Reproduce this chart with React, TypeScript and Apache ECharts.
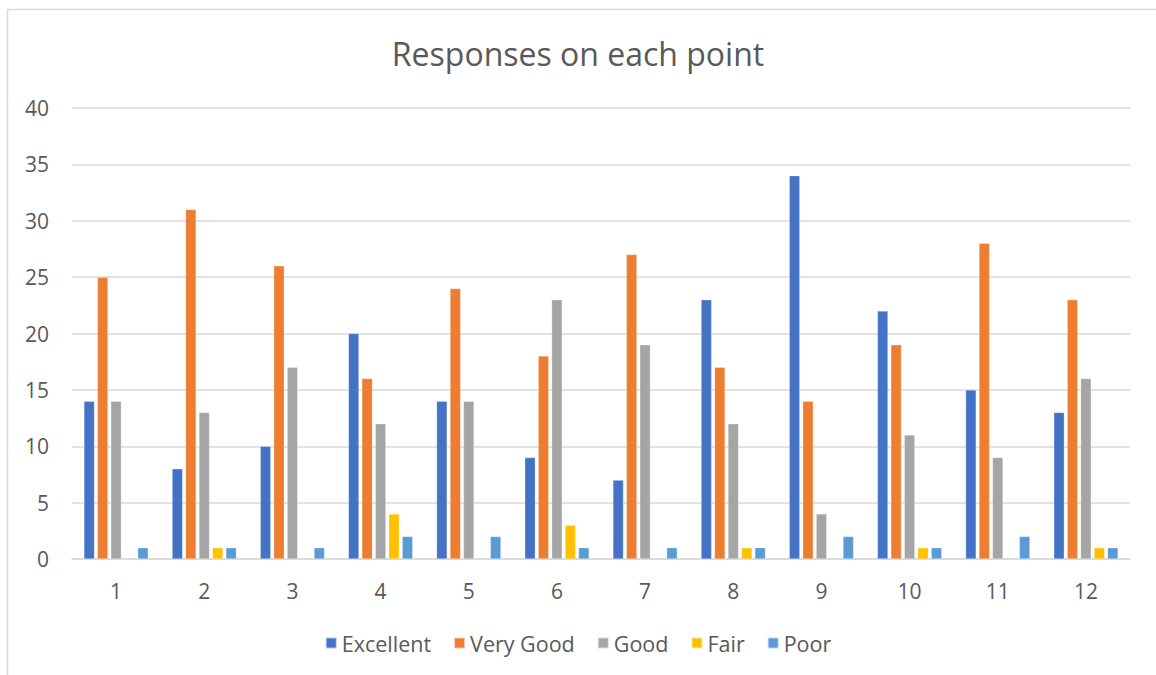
import React, { useEffect, useRef } from "react";
import * as echarts from "echarts";

const categories = ["1", "2", "3", "4", "5", "6", "7", "8", "9", "10", "11", "12"];
const excellent = [14, 8, 10, 20, 14, 9, 7, 23, 34, 22, 15, 13];
const veryGood = [25, 31, 26, 16, 24, 18, 27, 17, 14, 19, 28, 23];
const good = [14, 13, 17, 12, 14, 23, 19, 12, 4, 11, 9, 16];
const fair = [null, 1, null, 4, null, 3, null, 1, null, 1, null, 1];
const poor = [1, 1, 1, 2, 2, 1, 1, 1, 2, 1, 2, 1];

const seriesNames = ["Excellent", "Very Good", "Good", "Fair", "Poor"];
const seriesData = [excellent, veryGood, good, fair, poor];
const colors = ["#4472C4", "#ED7D31", "#A5A5A5", "#FFC000", "#5B9BD5"];

export default function App() {
  const ref = useRef<HTMLDivElement>(null);
  useEffect(() => {
    if (!ref.current) return;
    const chart = echarts.init(ref.current, null, { renderer: "svg" });
    const font = "'Open Sans', 'Noto Sans', sans-serif";
    chart.setOption({
      animation: false,
      backgroundColor: "#ffffff",
      color: colors,
      title: {
        text: "Responses on each point",
        left: "center",
        top: 32,
        textStyle: { color: "#595959", fontSize: 32, fontWeight: "normal", fontFamily: font },
      },
      graphic: [
        {
          type: "rect",
          shape: { x: 7.5, y: 9.5, width: 1170, height: 700 },
          style: { fill: "none", stroke: "#d9d9d9", lineWidth: 1.5 },
          silent: true,
        },
      ],
      legend: {
        top: 627,
        left: "center",
        itemWidth: 11,
        itemHeight: 11,
        itemGap: 22,
        icon: "rect",
        textStyle: { color: "#595959", fontSize: 21.5, fontFamily: font },
        data: seriesNames,
      },
      grid: { left: 72, right: 26, top: 108, bottom: 116, containLabel: false },
      xAxis: {
        type: "category",
        data: categories,
        axisLine: { lineStyle: { color: "#d9d9d9", width: 1.5 } },
        axisTick: { show: false },
        axisLabel: { color: "#595959", fontSize: 21, margin: 21, fontFamily: font },
      },
      yAxis: {
        type: "value",
        min: 0,
        max: 40,
        interval: 5,
        axisLine: { show: false },
        axisTick: { show: false },
        splitLine: { lineStyle: { color: "#d9d9d9", width: 1.5 } },
        axisLabel: { color: "#595959", fontSize: 21, margin: 23, fontFamily: font },
      },
      series: seriesNames.map((name, i) => ({
        name,
        type: "bar",
        data: seriesData[i],
        barGap: "27%",
        barCategoryGap: "27%",
        itemStyle: { color: colors[i], borderColor: "rgba(255,255,255,0.6)", borderWidth: 0.5 },
      })),
    });
    return () => chart.dispose();
  }, []);
  return (
    <div
      ref={ref}
      style={{ position: "fixed", left: 0, top: 0, width: 1156, height: 675 }}
    />
  );
}
